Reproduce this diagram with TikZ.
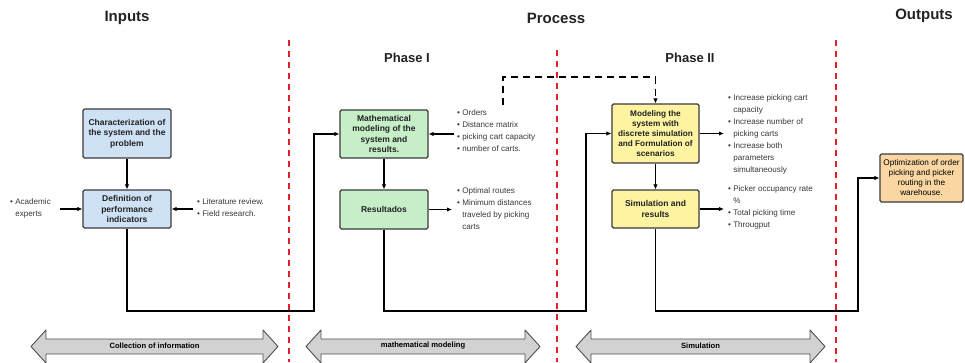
\documentclass[tikz,border=0pt]{standalone}
\usepackage{fontspec}
\setmainfont{Liberation Sans}
\usetikzlibrary{arrows.meta}
\definecolor{bluef}{HTML}{CFE2F5}
\definecolor{greenf}{HTML}{C6EFC8}
\definecolor{yellowf}{HTML}{FDF3A0}
\definecolor{orangef}{HTML}{F9D6A2}
\definecolor{boxline}{HTML}{3A3A3A}
\definecolor{txt}{HTML}{222222}
\definecolor{redline}{HTML}{E0202A}
\definecolor{arrfill}{HTML}{D2D2D2}
\definecolor{arrline}{HTML}{505050}
\begin{document}
\begin{tikzpicture}[x=1pt,y=-1pt,
  box/.style={draw=boxline, line width=1.1pt, rounded corners=1.5pt, align=center,
    font=\bfseries\fontsize{8.5}{10.4}\selectfont, text=txt, inner sep=0pt},
  bul/.style={anchor=north west, align=left, inner sep=0pt,
    font=\fontsize{8.1}{12}\selectfont, text=txt!90},
  conn/.style={line width=1.1pt, -{Latex[length=5pt,width=4.5pt]}},
  sep/.style={draw=redline, line width=1.3pt, dash pattern=on 6pt off 5pt},
  title/.style={font=\bfseries\fontsize{15}{18}\selectfont, text=txt},
  phase/.style={font=\bfseries\fontsize{13}{16}\selectfont, text=txt},
  phasearrow/.style={fill=arrfill, draw=arrline, line width=0.9pt, line join=round},
  arrlabel/.style={font=\bfseries\fontsize{7.6}{9}\selectfont, text=black, inner sep=0pt}
]
\useasboundingbox (0,0) rectangle (965,362);

% titles
\node[title] (tin) at (127,18) {Inputs};
\node[title] (tpr) at (556,18) {Process};
\node[title] (tout) at (924,16) {Outputs};
\node[phase] (p1) at (407,58) {Phase I};
\node[phase] (p2) at (690,58) {Phase II};

% red separators
\draw[sep] (289,40) -- (289,362);
\draw[sep] (557,50) -- (557,362);
\draw[sep] (836,40) -- (836,362);

% boxes
\node[box, fill=bluef, minimum width=88pt, minimum height=49pt] (char) at (127,133.5)
  {Characterization of\\the system and the\\problem};
\node[box, fill=bluef, minimum width=88pt, minimum height=38pt] (def) at (127,209)
  {Definition of\\performance\\indicators};
\node[box, fill=greenf, minimum width=88pt, minimum height=48pt] (math) at (384,134)
  {Mathematical\\modeling of the\\system and\\results.};
\node[box, fill=greenf, minimum width=88pt, minimum height=39pt] (res) at (384,209.5)
  {Resultados};
\node[box, fill=yellowf, minimum width=87pt, minimum height=59pt,
  font=\bfseries\fontsize{8.2}{10.2}\selectfont] (model) at (655.5,133.5)
  {Modeling the\\system with\\discrete simulation\\and Formulation of\\scenarios};
\node[box, fill=yellowf, minimum width=87pt, minimum height=38pt] (simres) at (655.5,209)
  {Simulation and\\results};
\node[box, fill=orangef, minimum width=83pt, minimum height=48pt,
  font=\fontsize{8.2}{10}\selectfont, text=black] (out) at (921.5,178)
  {Optimization of order\\picking and picker\\routing in the\\warehouse.};

% bullet texts
\node[bul] (acad) at (10,198) {• Academic\\\phantom{• }experts};
\node[bul] (lit) at (197,198) {• Literature review.\\• Field research.};
\node[bul] (orders) at (457,109) {• Orders\\• Distance matrix\\• picking cart capacity\\• number of carts.};
\node[bul] (optr) at (457,187) {• Optimal routes\\• Minimum distances\\\phantom{• }traveled by picking\\\phantom{• }carts};
\node[bul] (incr) at (728,94) {• Increase picking cart\\\phantom{• }capacity\\• Increase number of\\\phantom{• }picking carts\\• Increase both\\\phantom{• }parameters\\\phantom{• }simultaneously};
\node[bul] (pick) at (728,185) {• Picker occupancy rate\\\phantom{• }\%\\• Total picking time\\• Througput};

% free ends
\coordinate (acadE) at (60,209);
\coordinate (litW) at (193,209);
\coordinate (ordW) at (454,134);
\coordinate (resO) at (452,209.5);
\coordinate (modO) at (724,133.5);
\coordinate (simO) at (724,209);
\coordinate (c1) at (314,311);
\coordinate (c2) at (586,311);
\coordinate (c3) at (858,311);
\coordinate (d0) at (503,105);
\coordinate (d1) at (503,77);

% connectors
\draw[conn] (char) -- (def);
\draw[conn] (acadE) -- (def.west);
\draw[conn] (litW) -- (def.east);
\draw[conn] (def.south) |- (c1) |- (math.west);
\draw[conn] (ordW) -- (math.east);
\draw[conn] (math) -- (res);
\draw[conn] (res.east) -- (resO);
\draw[conn] (res.south) |- (c2) |- (model.west);
\draw[conn, dash pattern=on 7pt off 5pt] (d0) -- (d1) -| (model.north);
\draw[conn] (model) -- (simres);
\draw[conn] (model.east) -- (modO);
\draw[conn] (simres.east) -- (simO);
\draw[conn] (simres.south) |- (c3) |- (out.west);

% bottom double arrows
\draw[phasearrow] (31,346.5) -- (46,330) -- (46,339) -- (263,339) -- (263,330) -- (278,346.5)
  -- (263,363) -- (263,354) -- (46,354) -- (46,363) -- cycle;
\node[arrlabel] (a1) at (154.5,346) {Collection of information};
\draw[phasearrow] (306,346.5) -- (321,330) -- (321,339) -- (525,339) -- (525,330) -- (540,346.5)
  -- (525,363) -- (525,354) -- (321,354) -- (321,363) -- cycle;
\node[arrlabel] (a2) at (423,346) {mathematical modeling};
\draw[phasearrow] (576,346.5) -- (591,330) -- (591,339) -- (810,339) -- (810,330) -- (825,346.5)
  -- (810,363) -- (810,354) -- (591,354) -- (591,363) -- cycle;
\node[arrlabel] (a3) at (700.5,346) {Simulation};
\end{tikzpicture}
\end{document}
